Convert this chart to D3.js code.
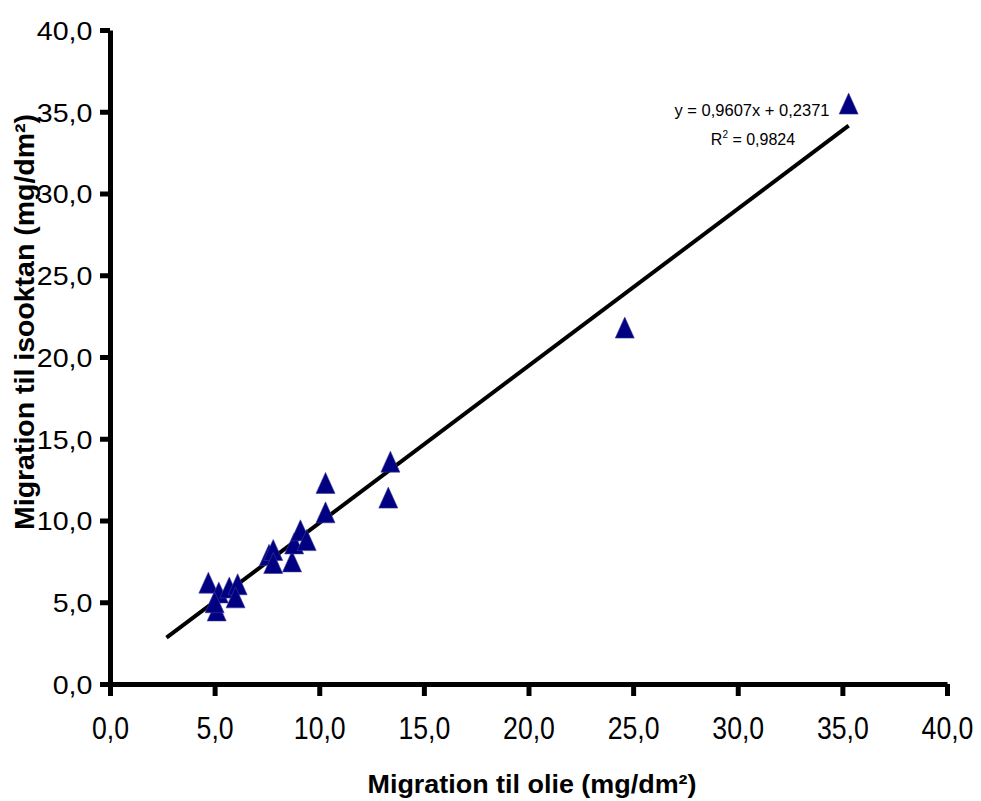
<!DOCTYPE html>
<html>
<head>
<meta charset="utf-8">
<script src="https://cdn.jsdelivr.net/npm/d3@7"></script>
<style>
  body { margin: 0; background: #fff; }
  text { font-family: "Liberation Sans", Arial, sans-serif; }
</style>
</head>
<body>
<div id="chart"></div>
<script>
// migration values (mg/dm²)
var oilValues = [4.7, 5.2, 5.7, 6.1, 6.0, 5.1, 5.0, 7.6, 7.8, 7.8, 8.7, 8.8, 9.1, 9.4, 10.3, 10.3, 13.3, 13.4, 24.6, 35.3];
var isoValues = [6.2, 5.6, 5.9, 6.1, 5.3, 4.5, 5.0, 7.9, 8.2, 7.4, 7.5, 8.6, 9.4, 8.8, 12.3, 10.5, 11.4, 13.6, 21.8, 35.5];

var xTicks = [0, 5, 10, 15, 20, 25, 30, 35, 40];
var yTicks = [0, 5, 10, 15, 20, 25, 30, 35, 40];

var slope = 0.9607;
var intercept = 0.2371;
var rSquared = "0,9824";
var trendExtent = [2.7, 35.3];

const WIDTH = 981;
const HEIGHT = 801;

var fmt = function (d) { return d3.format(".1f")(d).replace(".", ","); };

var svg = d3.select("#chart")
    .append("svg")
    .attr("width", WIDTH)
    .attr("height", HEIGHT);

svg.append("rect")
    .attr("width", WIDTH)
    .attr("height", HEIGHT)
    .attr("fill", "#fff");

var xScale = d3.scaleLinear().domain([0, 40]).range([110, 947]),
    yScale = d3.scaleLinear().domain([0, 40]).range([684, 30]);

// x axis
var gx = svg.append("g")
    .attr("transform", "translate(0," + yScale(0) + ")")
    .call(d3.axisBottom(xScale).tickValues(xTicks).tickFormat(fmt).tickSize(12).tickSizeOuter(0));
gx.select(".domain").attr("stroke", "#000").attr("stroke-width", 5);
gx.selectAll(".tick line").attr("stroke", "#000").attr("stroke-width", 5);
gx.selectAll(".tick text")
    .attr("y", 55)
    .attr("dy", 0)
    .attr("transform", "scale(0.86,1)")
    .style("font-size", "31px")
    .attr("fill", "#000");

// y axis
var gy = svg.append("g")
    .attr("transform", "translate(" + xScale(0) + ",0)")
    .call(d3.axisLeft(yScale).tickValues(yTicks).tickFormat(fmt).tickSize(10).tickSizeOuter(0));
gy.select(".domain").attr("stroke", "#000").attr("stroke-width", 5);
gy.selectAll(".tick line").attr("stroke", "#000").attr("stroke-width", 5);
gy.selectAll(".tick text")
    .attr("x", -16)
    .attr("dy", "0.36em")
    .attr("transform", "scale(1.1,1)")
    .style("font-size", "26px")
    .attr("fill", "#000");

// trend line
var line = d3.line()
    .x(function (d) { return xScale(d); })
    .y(function (d) { return yScale(slope * d + intercept); });

svg.append("path")
    .datum(trendExtent)
    .attr("d", line)
    .attr("fill", "none")
    .attr("stroke", "#000")
    .attr("stroke-width", 4);

// triangle markers
var tw = 19, th = 21;
var triangle = "M0," + (-th / 2) + "L" + (tw / 2) + "," + (th / 2) + "L" + (-tw / 2) + "," + (th / 2) + "Z";

svg.append("g")
    .selectAll("path")
    .data(d3.zip(oilValues, isoValues))
    .enter()
    .append("path")
    .attr("d", triangle)
    .attr("transform", function (d) { return "translate(" + xScale(d[0]) + "," + yScale(d[1]) + ")"; })
    .attr("fill", "#000080")
    .attr("stroke", "#3a3aa0")
    .attr("stroke-width", 0.6);

// equation
svg.append("text")
    .attr("x", 752)
    .attr("y", 116)
    .attr("text-anchor", "middle")
    .attr("textLength", 155)
    .attr("lengthAdjust", "spacingAndGlyphs")
    .style("font-size", "16px")
    .text("y = " + fmt4(slope) + "x + " + fmt4(intercept));

function fmt4(v) { return d3.format(".4f")(v).replace(".", ","); }

var r2 = svg.append("text")
    .attr("x", 753)
    .attr("y", 145)
    .attr("text-anchor", "middle")
    .style("font-size", "16px");
r2.append("tspan").text("R");
r2.append("tspan").attr("dy", -7).style("font-size", "10px").text("2");
r2.append("tspan").attr("dy", 7).text(" = " + rSquared);

// axis titles
svg.append("text")
    .attr("x", 532)
    .attr("y", 793)
    .attr("text-anchor", "middle")
    .attr("textLength", 329)
    .attr("lengthAdjust", "spacingAndGlyphs")
    .style("font-size", "25px")
    .style("font-weight", "bold")
    .text("Migration til olie (mg/dm²)");

svg.append("text")
    .attr("transform", "translate(34,322) rotate(-90)")
    .attr("text-anchor", "middle")
    .attr("textLength", 416)
    .attr("lengthAdjust", "spacingAndGlyphs")
    .style("font-size", "28px")
    .style("font-weight", "bold")
    .text("Migration til isooktan (mg/dm²)");
</script>
</body>
</html>
